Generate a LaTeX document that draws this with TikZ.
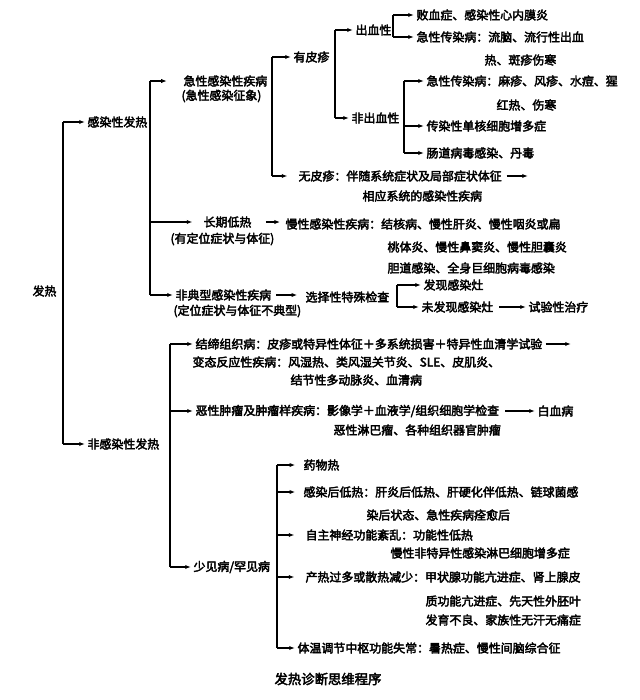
\documentclass[tikz,border=0pt]{standalone}
\usepackage{fontspec}
\newfontfamily\cjk{Noto Sans CJK SC}[FakeBold=3]
\usetikzlibrary{arrows.meta}
\tikzset{
  lbl/.style={anchor=west, inner sep=0pt, font=\cjk\fontsize{8.5}{10}\selectfont},
  arr/.style={-{Latex[length=4pt,width=3pt]}, shorten >=1.5pt},
}
\begin{document}
\begin{tikzpicture}[x=0.025cm, y=-0.025cm, line width=0.8pt]
            \useasboundingbox (0, 0) rectangle (640, 700);

            \node[lbl] (fa) at (32, 291) {发热};
            \node[lbl] (inf) at (87, 122) {感染性发热};
            \node[lbl] (noninf) at (87, 444) {非感染性发热};

            \node[lbl] (acute) at (183, 81) {急性感染性疾病};
            \node[lbl] (acute2) at (181, 96) {(急性感染征象)};
            \node[lbl] (rash) at (293, 57) {有皮疹};
            \node[lbl] (bleed) at (355, 30) {出血性};
            \node[lbl] (nobleed) at (351, 118) {非出血性};
            \node[lbl] (sepsis) at (416, 15) {败血症、感染性心内膜炎};
            \node[lbl] (acuteA) at (416, 37) {急性传染病：流脑、流行性出血};
            \node[lbl] (acuteA2) at (484, 60) {热、斑疹伤寒};
            \node[lbl] (acuteB) at (426, 81) {急性传染病：麻疹、风疹、水痘、猩};
            \node[lbl] (acuteB2) at (496, 105) {红热、伤寒};
            \node[lbl] (mono) at (426, 126) {传染性单核细胞增多症};
            \node[lbl] (entero) at (426, 153) {肠道病毒感染、丹毒};
            \node[lbl] (norash) at (298, 176) {无皮疹：伴随系统症状及局部症状体征};
            \node[lbl] (norash2) at (362, 196) {相应系统的感染性疾病};

            \node[lbl] (low) at (203, 222) {长期低热};
            \node[lbl] (low2) at (170, 239) {(有定位症状与体征)};
            \node[lbl] (chronic) at (285, 224) {慢性感染性疾病：结核病、慢性肝炎、慢性咽炎或扁};
            \node[lbl] (chronic2) at (387, 247) {桃体炎、慢性鼻窦炎、慢性胆囊炎};
            \node[lbl] (chronic3) at (387, 268) {胆道感染、全身巨细胞病毒感染};

            \node[lbl] (atyp) at (175, 295) {非典型感染性疾病};
            \node[lbl] (atyp2) at (173, 311) {(定位症状与体征不典型)};
            \node[lbl] (select) at (305, 297) {选择性特殊检查};
            \node[lbl] (found) at (423, 285) {发现感染灶};
            \node[lbl] (notfound) at (421, 307) {未发现感染灶};
            \node[lbl] (trial) at (528, 307) {试验性治疗};

            \node[lbl] (ctd) at (195, 344) {结缔组织病：皮疹或特异性体征＋多系统损害＋特异性血清学试验};
            \node[lbl] (allergy) at (192, 362) {变态反应性疾病：风湿热、类风湿关节炎、SLE、皮肌炎、};
            \node[lbl] (allergy2) at (290, 380) {结节性多动脉炎、血清病};
            \node[lbl] (tumor) at (195, 411) {恶性肿瘤及肿瘤样疾病：影像学＋血液学/组织细胞学检查};
            \node[lbl] (leuk) at (537, 411) {白血病};
            \node[lbl] (tumor2) at (333, 430) {恶性淋巴瘤、各种组织器官肿瘤};

            \node[lbl] (rare) at (193, 567) {少见病/罕见病};
            \node[lbl] (drug) at (303, 465) {药物热};
            \node[lbl] (post) at (303, 492) {感染后低热：肝炎后低热、肝硬化伴低热、链球菌感};
            \node[lbl] (post2) at (366, 515) {染后状态、急性疾病痊愈后};
            \node[lbl] (auto) at (305, 535) {自主神经功能紊乱：功能性低热};
            \node[lbl] (auto2) at (390, 553) {慢性非特异性感染淋巴细胞增多症};
            \node[lbl] (heat) at (305, 577) {产热过多或散热减少：甲状腺功能亢进症、肾上腺皮};
            \node[lbl] (heat2) at (425, 601) {质功能亢进症、先天性外胚叶};
            \node[lbl] (heat3) at (425, 620) {发育不良、家族性无汗无痛症};
            \node[lbl] (center) at (297, 648) {体温调节中枢功能失常：暑热症、慢性间脑综合征};

            \node[lbl, anchor=center, font=\cjk\fontsize{9.5}{11}\selectfont] (title) at (328, 679) {发热诊断思维程序};

            \coordinate (vRoot) at (63, 0);
            \coordinate (vInf) at (150, 0);
            \coordinate (vAcute) at (272, 0);
            \coordinate (vRash) at (335, 0);
            \coordinate (vBleed) at (393, 0);
            \coordinate (vNobleed) at (404, 0);
            \coordinate (vSelect) at (397, 0);
            \coordinate (vNon) at (170, 0);
            \coordinate (vRare) at (277, 0);
            \coordinate (norashEnd) at (530, 176);
            \coordinate (ctdEnd) at (573, 344);

            \draw (vRoot |- inf.west) -- (vRoot |- noninf.west);
            \draw[arr] (vRoot |- inf.west) -- (inf.west);
            \draw[arr] (vRoot |- noninf.west) -- (noninf.west);

            \draw (vInf |- acute.west) -- (vInf |- atyp.west);
            \draw[arr] (vInf |- acute.west) -- ([xshift=-10]acute.west);
            \draw[arr] (vInf |- low.west) -- ([xshift=-6]low.west);
            \draw[arr] (vInf |- atyp.west) -- (atyp.west);

            \draw (vAcute |- rash.west) -- (vAcute |- norash.west);
            \draw[arr] (vAcute |- rash.west) -- (rash.west);
            \draw[arr] (vAcute |- norash.west) -- ([xshift=-6]norash.west);

            \draw (vRash |- bleed.west) -- (vRash |- nobleed.west);
            \draw[arr] (vRash |- bleed.west) -- (bleed.west);
            \draw[arr] (vRash |- nobleed.west) -- (nobleed.west);

            \draw (vBleed |- sepsis.west) -- (vBleed |- acuteA.west);
            \draw[arr] (vBleed |- sepsis.west) -- (sepsis.west);
            \draw[arr] (vBleed |- acuteA.west) -- (acuteA.west);

            \draw (vNobleed |- acuteB.west) -- (vNobleed |- entero.west);
            \draw[arr] (vNobleed |- acuteB.west) -- (acuteB.west);
            \draw[arr] (vNobleed |- mono.west) -- (mono.west);
            \draw[arr] (vNobleed |- entero.west) -- (entero.west);

            \draw[arr] ([xshift=3]norash.east) -- (norashEnd);
            \draw[arr] ([xshift=10]low.east) -- ([xshift=-2]low.east -| chronic.west);
            \draw[arr] ([xshift=3]atyp.east) -- ([xshift=-4]atyp.east -| select.west);

            \draw (vSelect |- found.west) -- (vSelect |- notfound.west);
            \draw[arr] (vSelect |- found.west) -- (found.west);
            \draw[arr] (vSelect |- notfound.west) -- (notfound.west);
            \draw[arr] ([xshift=4]notfound.east) -- (trial.west);

            \draw (vNon |- ctd.west) -- (vNon |- rare.west);
            \draw[arr] (vNon |- ctd.west) -- (ctd.west);
            \draw[arr] (vNon |- tumor.west) -- (tumor.west);
            \draw[arr] (vNon |- rare.west) -- (rare.west);
            \draw[arr] ([xshift=2]ctd.east) -- (ctdEnd);
            \draw[arr] ([xshift=4]tumor.east) -- (leuk.west);

            \draw (vRare |- drug.west) -- (vRare |- center.west);
            \draw[arr] (vRare |- drug.west) -- ([xshift=-4]drug.west);
            \draw[arr] (vRare |- post.west) -- ([xshift=-4]post.west);
            \draw[arr] (vRare |- auto.west) -- ([xshift=-6]auto.west);
            \draw[arr] (vRare |- heat.west) -- ([xshift=-6]heat.west);
            \draw[arr] (vRare |- center.west) -- (center.west);
\end{tikzpicture}
\end{document}
